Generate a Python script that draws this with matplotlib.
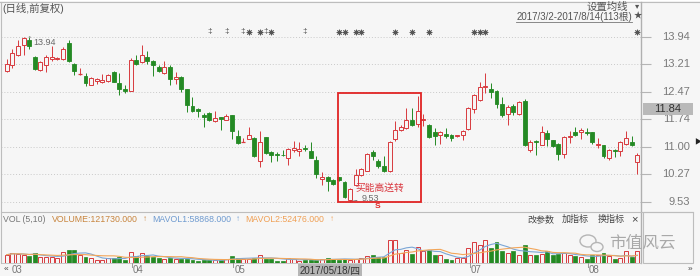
import matplotlib
matplotlib.use('Agg')
import matplotlib.pyplot as plt
import matplotlib.patches as mpatches
import numpy as np
import pandas as pd

plt.rcParams['font.family'] = ['Liberation Sans', 'Noto Sans CJK SC', 'DejaVu Sans']

W, H = 700, 276

# ---------------- data ----------------
opens = [13.01,13.17,13.46,13.71,13.84,13.40,13.06,13.17,13.34,13.34,
         13.35,13.77,13.21,12.93,12.90,12.66,12.75,12.73,12.75,12.99,
         12.70,12.53,12.50,13.31,13.26,13.40,13.30,13.13,12.97,13.12,
         12.81,12.86,12.54,12.08,12.01,11.84,11.90,11.68,11.78,11.72,
         11.84,11.29,11.11,11.21,11.23,10.61,11.25,10.85,10.80,10.79,
         10.71,10.91,10.88,10.97,10.88,10.63,10.14,10.18,10.12,10.18,
         10.06,9.58,9.97,10.23,10.36,10.86,10.62,10.49,10.36,11.21,
         11.45,11.50,11.70,11.61,11.70,11.59,11.39,11.32,11.35,11.30,
         11.28,11.32,11.47,12.01,12.25,12.59,12.54,12.48,12.14,11.87,
         12.08,11.87,12.23,10.90,11.16,11.05,11.36,11.17,11.07,10.80,
         11.25,11.39,11.39,11.39,11.38,11.05,11.04,10.70,10.91,10.89,
         11.07,11.12,10.59]
highs = [13.35,13.62,13.86,13.92,13.94,13.42,13.28,13.44,13.68,13.39,
         13.66,13.86,13.24,13.10,12.97,12.85,12.84,12.93,12.94,13.01,
         12.97,12.64,13.37,13.46,13.71,13.55,13.32,13.17,13.30,13.19,
         13.00,12.90,12.55,12.33,12.03,11.90,11.92,11.94,11.79,11.87,
         11.85,11.44,11.23,11.52,11.25,11.41,11.26,10.89,10.86,10.90,
         10.96,11.14,11.12,11.04,11.12,10.74,10.31,10.21,10.14,10.20,
         10.07,9.89,10.39,10.43,10.83,10.92,10.68,10.74,11.14,11.68,
         11.59,12.03,12.03,12.35,11.87,11.61,11.50,11.41,11.50,11.34,
         11.32,11.45,12.05,12.41,12.72,12.97,12.70,12.52,12.32,12.11,
         12.14,12.21,12.28,11.19,11.19,11.54,11.45,11.19,11.09,11.28,
         11.41,11.52,11.50,11.50,11.39,11.23,11.05,10.95,10.94,11.14,
         11.41,11.29,10.82]
lows = [12.99,13.09,13.42,13.46,13.62,13.06,13.03,12.99,13.28,13.33,
        13.33,13.26,12.91,12.91,12.61,12.64,12.68,12.70,12.73,12.72,
        12.39,12.43,12.48,13.17,13.24,13.21,12.90,12.99,12.93,12.66,
        12.68,12.45,11.92,11.92,11.78,11.52,11.68,11.66,11.45,11.70,
        11.20,11.08,11.09,11.20,10.72,10.46,10.81,10.59,10.61,10.74,
        10.50,10.86,10.74,10.88,10.70,10.16,9.97,9.81,9.98,10.09,
        9.63,9.53,9.94,10.21,10.34,10.65,10.43,10.31,10.32,11.14,
        11.43,11.48,11.54,11.52,11.54,11.23,11.04,11.07,11.23,11.16,
        11.26,11.19,11.45,11.90,12.23,12.43,12.30,12.03,11.78,11.59,
        11.84,11.84,11.01,10.87,10.79,11.04,11.01,11.00,10.65,10.70,
        11.10,11.28,11.21,11.32,11.07,10.97,10.70,10.63,10.72,10.76,
        11.04,11.02,10.27]
closes = [13.21,13.50,13.68,13.91,13.68,13.08,13.26,13.40,13.40,13.36,
          13.62,13.28,13.01,12.94,12.70,12.84,12.82,12.77,12.91,12.73,
          12.55,12.48,13.31,13.22,13.44,13.30,13.17,13.01,13.12,12.82,
          12.86,12.54,12.12,11.96,11.94,11.80,11.71,11.77,11.75,11.83,
          11.41,11.10,11.12,11.30,10.74,11.12,10.83,10.77,10.77,10.77,
          10.94,10.96,10.94,10.93,10.71,10.28,10.18,10.07,10.00,10.12,
          9.65,9.88,10.25,10.41,10.80,10.74,10.49,10.34,11.12,11.45,
          11.52,11.70,11.57,11.94,11.73,11.25,11.28,11.38,11.28,11.23,
          11.30,11.43,12.03,12.39,12.60,12.61,12.46,12.14,11.84,12.05,
          11.93,12.19,11.04,11.12,11.12,11.38,11.21,11.03,10.80,11.25,
          11.29,11.32,11.45,11.37,11.12,11.08,10.74,10.92,10.88,11.12,
          11.23,11.04,10.79]
volumes = [150,180,168,150,120,180,108,108,108,90,
           198,228,228,150,108,90,48,60,90,90,
           108,60,198,120,180,120,108,90,78,90,
           78,78,78,60,42,48,48,48,60,72,
           120,90,72,78,90,138,78,72,42,42,
           90,72,42,60,48,48,72,90,72,60,
           72,60,72,90,120,138,102,108,420,420,
           180,240,168,282,210,240,150,150,78,60,
           90,90,270,378,330,420,270,378,210,180,
           210,150,330,150,150,168,210,150,162,180,
           150,120,108,78,150,150,180,120,78,90,
           210,108,210]

price_ticks = [13.94, 13.21, 12.47, 11.74, 11.00, 10.27, 9.53]
month_labels = ['03', '04', '05', '07', '08']
month_starts = [0, 22, 40, 82, 103]
dagger_idx = [36, 39, 42, 46, 53]
star_idx = [43, 45, 47, 59, 60, 62, 63, 69, 72, 75, 83, 84, 85, 112]
high_idx, high_val = 4, 13.94
low_idx, low_val = 61, 9.53
cursor_date = '2017/05/18/四'
cursor_price = '11.84'
box_first, box_last = 59, 73

RED = '#d83a3e'
GREEN = '#248a24'
BG = '#f6f6f6'
GRID = '#c9c9c9'

n = len(opens)
idx = np.arange(n)

fig = plt.figure(figsize=(W / 100, H / 100), dpi=100, facecolor=BG)


def px(x0, y0, x1, y1):
    return [x0 / W, 1 - y1 / H, (x1 - x0) / W, (y1 - y0) / H]


# ---------------- main price axes ----------------
ax = fig.add_axes(px(1, 3, 641, 211))
ax.set_facecolor('none')
ax.set_xlim(-1.01, 112.66)
ax.set_ylim(9.2796, 14.841)
for s in ax.spines.values():
    s.set_visible(False)
ax.set_xticks([])
ax.set_yticks(price_ticks)
ax.yaxis.tick_right()
ax.tick_params(axis='y', direction='out', length=7, width=0.8,
               color='#b5b5b5', labelright=False, right=True, left=False)
for p in price_ticks:
    ax.axhline(p, color=GRID, lw=0.7, ls=(0, (1, 2)), zorder=0)
    ax.text(1.0766, p, f'{p:.2f}', transform=ax.get_yaxis_transform(),
            ha='right', va='center', fontsize=8, color='#7a7a7a', clip_on=False)

bw = 0.7
for i, o, h, l, c in zip(idx, opens, highs, lows, closes):
    if c >= o:
        top, bot = c, o
        ax.vlines(i, top, h, color=RED, lw=0.7, zorder=2)
        ax.vlines(i, l, bot, color=RED, lw=0.7, zorder=2)
        if top - bot < 0.015:
            ax.hlines(top, i - bw / 2, i + bw / 2, color=RED, lw=0.9, zorder=3)
        else:
            ax.add_patch(mpatches.Rectangle((i - bw / 2, bot), bw, top - bot,
                                            facecolor=BG, edgecolor=RED, lw=0.7, zorder=3))
    else:
        ax.vlines(i, l, h, color=GREEN, lw=0.7, zorder=2)
        ax.add_patch(mpatches.Rectangle((i - bw / 2, c), bw, max(o - c, 0.012),
                                        facecolor=GREEN, edgecolor=GREEN, lw=0.6, zorder=3))

star_y = 14.066
ax.scatter(star_idx, [star_y] * len(star_idx), marker=(8, 2, 0), s=13,
           color='#555555', lw=0.6, zorder=4)
for i in dagger_idx:
    ax.text(i, star_y, '‡', ha='center', va='center', fontsize=6,
            color='#555555', zorder=4)

# high / low markers
ax.annotate(f'{high_val:.2f}', xy=(high_idx, high_val), xytext=(4, -6),
            textcoords='offset pixels', fontsize=6.5, color='#6a6a6a',
            ha='left', va='center',
            arrowprops=dict(arrowstyle='-', color='#6a6a6a', lw=0.6,
                            shrinkA=0, shrinkB=1))
ax.annotate(f'{low_val:.2f}', xy=(low_idx, low_val), xytext=(11, 3.5),
            textcoords='offset pixels', fontsize=6.5, color='#6a6a6a',
            ha='left', va='center',
            arrowprops=dict(arrowstyle='-', color='#6a6a6a', lw=0.6,
                            shrinkA=1, shrinkB=1))

# red box annotation
ax.add_patch(mpatches.Rectangle((box_first - 0.2, 9.515), box_last - box_first + 0.8,
                                12.43 - 9.515, fill=False, edgecolor='#e02424',
                                lw=1.3, zorder=5))
ax.text(61.95, 9.90, '买能高送转', ha='left', va='center', fontsize=7,
        color='#d9363e', zorder=6)
ax.text(65.8, 9.39, 'S', ha='center', va='center', fontsize=6,
        color='#e02424', fontweight='bold', zorder=6)

# ---------------- volume axes ----------------
vax = fig.add_axes(px(1, 228, 641, 263))
vax.set_facecolor('none')
vax.set_xlim(-1.01, 112.66)
vax.set_ylim(0, 631)
vax.axis('off')
for i, o, c, v in zip(idx, opens, closes, volumes):
    if c >= o:
        vax.add_patch(mpatches.Rectangle((i - bw / 2, 0), bw, v, facecolor=BG,
                                         edgecolor=RED, lw=0.7, zorder=2))
    else:
        vax.add_patch(mpatches.Rectangle((i - bw / 2, 0), bw, v, facecolor=GREEN,
                                         edgecolor=GREEN, lw=0.5, zorder=2))
vs = pd.Series(volumes, dtype=float)
vax.plot(idx, vs.rolling(5, min_periods=1).mean(), color='#7ba6d6', lw=0.8, zorder=3)
vax.plot(idx, vs.rolling(10, min_periods=1).mean(), color='#f2a65a', lw=0.8, zorder=3)

# ---------------- overlay (frame, texts) ----------------
ov = fig.add_axes([0, 0, 1, 1])
ov.set_xlim(0, W)
ov.set_ylim(H, 0)
ov.axis('off')
ov.patch.set_alpha(0)

LINE = '#bdbdbd'
ov.add_patch(mpatches.Rectangle((0, 0), W, 1.2, facecolor='white', edgecolor='none'))
ov.plot([0, W], [1.5, 1.5], color=LINE, lw=0.8)
ov.plot([1, 1], [1.5, 263], color=LINE, lw=0.8)
ov.plot([641, 641], [1.5, 263], color='#b0b0b0', lw=1.0)
ov.plot([1, 693], [211.5, 211.5], color=LINE, lw=0.8)
ov.plot([1, 641], [263, 263], color=LINE, lw=0.6)
ov.add_patch(mpatches.Rectangle((643, 212), 50, 51, fill=False, edgecolor=LINE, lw=0.8))

# header texts
ov.text(2, 8, '(日线,前复权)', fontsize=7.5, color='#555555', ha='left', va='center')
ov.text(628, 7, '设置均线', fontsize=7.5, color='#555555', ha='right', va='center')
ov.text(637, 7, '▾', fontsize=6, color='#555555', ha='center', va='center')
ov.text(632, 17, '2017/3/2-2017/8/14(113根)', fontsize=7, color='#555555',
        ha='right', va='center')
ov.plot([516, 632], [22, 22], color='#777777', lw=0.6)
ov.text(638, 17, '★', fontsize=6, color='#555555', ha='center', va='center')

# cursor price label
ov.add_patch(mpatches.Rectangle((643, 103), 50, 12, facecolor='#b9b9b9', edgecolor='none'))
ov.text(668, 109.5, cursor_price, fontsize=8, color='#333333', ha='center', va='center')
ov.text(698, 143, '▶', fontsize=5, color='#222222', ha='center', va='center')

# volume header
vy = 219.5
hf = 6.3
ov.text(3, vy, 'VOL (5,10)', fontsize=hf, color='#777777', ha='left', va='center')
ov.text(52, vy, 'VOLUME:121730.000', fontsize=hf, color='#c8853e', ha='left', va='center')
ov.text(145.5, vy, '↑', fontsize=6, color='#c8853e', ha='center', va='center')
ov.text(152, vy, 'MAVOL1:58868.000', fontsize=hf, color='#6f9bd0', ha='left', va='center')
ov.text(238.5, vy, '↑', fontsize=6, color='#6f9bd0', ha='center', va='center')
ov.text(245, vy, 'MAVOL2:52476.000', fontsize=hf, color='#f0a055', ha='left', va='center')
ov.text(332.5, vy, '↑', fontsize=6, color='#f0a055', ha='center', va='center')
ov.text(527, vy, '改参数', fontsize=6.5, color='#444444', ha='left', va='center')
ov.text(562, vy, '加指标', fontsize=6.5, color='#444444', ha='left', va='center')
ov.text(598, vy, '换指标', fontsize=6.5, color='#444444', ha='left', va='center')
ov.text(634, vy, '×', fontsize=8, color='#444444', ha='center', va='center')

# watermark
ov.add_patch(mpatches.Ellipse((588, 241), 16, 12, fill=False, edgecolor='#b5b5b5', lw=1.0))
ov.add_patch(mpatches.Ellipse((597, 247), 12, 9, facecolor=BG, edgecolor='#b5b5b5', lw=1.0))
ov.text(609, 243, '市值风云', fontsize=12, color='#a9a9a9', ha='left', va='center')

# x axis row
ay = 270
ov.text(4, ay, '«', fontsize=6, color='#444444', ha='left', va='center')
ov.text(688, ay, '»', fontsize=6, color='#444444', ha='left', va='center')
for lab, m in zip(month_labels, month_starts):
    xpix = 6.7 + 5.63 * m
    if m > 0:
        ov.plot([xpix + 1.5, xpix + 1.5], [263, 267], color='#999999', lw=0.7)
    ov.text(max(xpix + 2.5, 12), ay, lab, fontsize=7, color='#777777', ha='left', va='center')
ov.add_patch(mpatches.Rectangle((298, 264), 64, 12, facecolor='#b5b5b5', edgecolor='none'))
ov.text(330, ay, cursor_date, fontsize=7, color='#333333', ha='center', va='center')

fig.savefig('out.png', dpi=100, facecolor=BG)
